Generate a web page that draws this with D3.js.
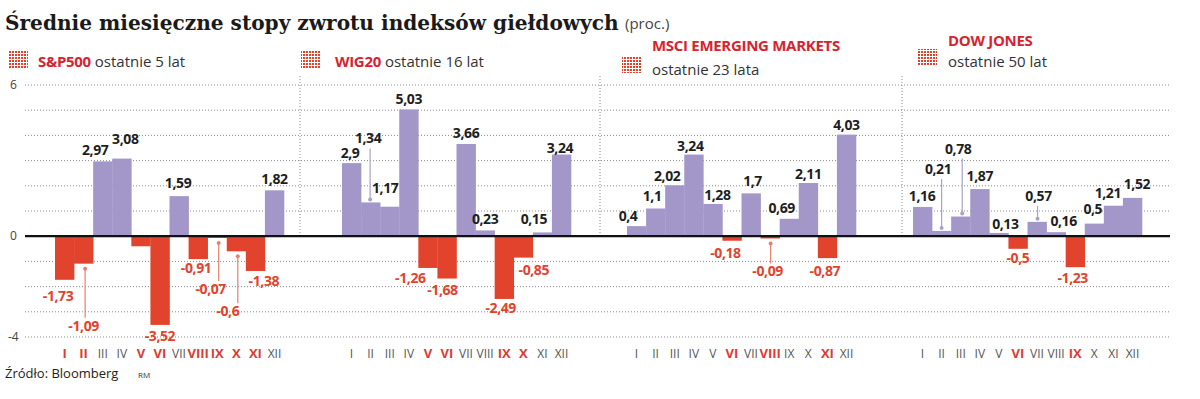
<!DOCTYPE html>
<html>
<head>
<meta charset="utf-8">
<script src="https://cdn.jsdelivr.net/npm/d3@7"></script>
<style>
  body { margin: 0; background: #fff; }
  svg { display: block; font-family: "Open Sans", sans-serif; }
</style>
</head>
<body>
<div id="chart"></div>
<script>
// data
const months = ["I", "II", "III", "IV", "V", "VI", "VII", "VIII", "IX", "X", "XI", "XII"];
const indexNames = ["S&P500", "WIG20", "MSCI EMERGING MARKETS", "DOW JONES"];
const periods = ["ostatnie 5 lat", "ostatnie 16 lat", "ostatnie 23 lata", "ostatnie 50 lat"];
const sp500 = [-1.73, -1.09, 2.97, 3.08, -0.4, -3.52, 1.59, -0.91, -0.07, -0.6, -1.38, 1.82];
const wig20 = [2.9, 1.34, 1.17, 5.03, -1.26, -1.68, 3.66, 0.23, -2.49, -0.85, 0.15, 3.24];
const msci = [0.4, 1.1, 2.02, 3.24, 1.28, -0.18, 1.7, -0.09, 0.69, 2.11, -0.87, 4.03];
const dowJones = [1.16, 0.21, 0.78, 1.87, 0.13, -0.5, 0.57, 0.16, -1.23, 0.5, 1.21, 1.52];
const hiddenLabels = [[0, 4]]; // S&P500 V has no value printed
const yTickLabels = [6, 0, -4];

const series = [sp500, wig20, msci, dowJones];

// layout
const W = 1200, H = 399;
const purple = "#a397c9", red = "#e2432d", redText = "#e2432d", legendRed = "#d8232f";
const panelLeft = [55, 342, 627, 913];
const panelWidth = 229;
const separators = [300, 600, 902];

// label nudges [dx, dy] from default spot (centre above / below the bar)
const nudge = [
  [[-6.5, 8], [0, 54], [-7.5, -2], [3.5, -11], [0, 0], [0, 3], [-1, -4], [-2, 1], [-6.5, 43], [-8.5, 52], [8.5, 2], [0, -2]],
  [[-1.5, -1], [-2.5, -55], [-4.5, -9.5], [0, -1], [-17.5, 2], [-4.5, 3], [0, -2], [0, -2], [-3.5, 1], [10.5, 4], [-8.5, -4], [-1.5, 2]],
  [[-8.5, -1], [-3.5, -3], [-7.5, 0], [-3.5, 0], [4.5, 0], [-6.5, 4.5], [1.5, -3], [-2.5, 25], [-7.5, -1.5], [0, 0], [-2.5, 5], [0, -1]],
  [[-0.5, -2], [-3.5, -53], [-2.5, -59], [0, -4], [6.5, 0], [0, 1], [1.5, -17], [7.5, -2], [-2.5, 3], [-1.5, -5.5], [-5.5, -3.5], [4.5, -4.5]]
];
// leader lines: [panel, month, dx of line from bar centre]
const leaders = [[0, 1, 1.5], [0, 8, 1.5], [0, 9, 1.5], [1, 1, -0.5], [2, 7, 0.5], [3, 1, 0], [3, 2, 1.5], [3, 6, 0.5]];

const svg = d3.select("#chart").append("svg")
  .attr("width", W)
  .attr("height", H);

const defs = svg.append("defs");
const pat = defs.append("pattern")
  .attr("id", "dots")
  .attr("width", 3).attr("height", 3)
  .attr("patternUnits", "userSpaceOnUse");
pat.append("rect").attr("width", 2).attr("height", 2).attr("fill", red);

const y = d3.scaleLinear().domain([-4, 6]).range([337, 85]);

// grid
svg.append("g")
  .selectAll("line")
  .data(d3.range(-4, 7).filter(d => d !== 0))
  .join("line")
  .attr("x1", 25).attr("x2", 1170)
  .attr("y1", d => y(d)).attr("y2", d => y(d))
  .attr("stroke", "#8a8a8a")
  .attr("stroke-width", 1)
  .attr("stroke-dasharray", "1,2");

svg.append("g")
  .selectAll("line")
  .data(separators)
  .join("line")
  .attr("x1", d => d).attr("x2", d => d)
  .attr("y1", 76).attr("y2", y(0))
  .attr("stroke", "#8a8a8a")
  .attr("stroke-dasharray", "1,2");

svg.append("g")
  .selectAll("text")
  .data(yTickLabels)
  .join("text")
  .attr("x", d => d < 0 ? 8 : 10)
  .attr("y", d => y(d) + 4)
  .attr("font-size", 12)
  .attr("fill", "#444")
  .text(d => d);

// title
const title = svg.append("text")
  .attr("x", 5).attr("y", 30)
  .attr("font-family", "DejaVu Serif, serif")
  .attr("font-weight", "bold")
  .attr("font-size", 21)
  .attr("fill", "#1a1a1a")
  .text("Średnie miesięczne stopy zwrotu indeksów giełdowych");
const tw = title.node().getComputedTextLength();
title.attr("font-size", 21 * 614 / tw);
svg.append("text")
  .attr("x", 625).attr("y", 29)
  .attr("font-size", 15)
  .attr("fill", "#444")
  .text("(proc.)");

// legends
const legendPos = [
  { icon: [8, 51], name: [38, 67], period: null },
  { icon: [301, 51], name: [335, 67], period: null },
  { icon: [622, 56], name: [652, 51], period: [652, 75] },
  { icon: [917, 49], name: [948, 46], period: [948, 67] }
];
legendPos.forEach((p, i) => {
  svg.append("rect")
    .attr("x", p.icon[0]).attr("y", p.icon[1])
    .attr("width", 20).attr("height", 17)
    .attr("fill", "url(#dots)");
  const t = svg.append("text")
    .attr("x", p.name[0]).attr("y", p.name[1])
    .attr("font-size", 15);
  t.append("tspan")
    .attr("font-weight", "bold")
    .attr("fill", legendRed)
    .attr("letter-spacing", -0.3)
    .text(indexNames[i]);
  if (p.period) {
    svg.append("text")
      .attr("x", p.period[0]).attr("y", p.period[1])
      .attr("font-size", 15)
      .attr("fill", "#333")
      .text(periods[i]);
  } else {
    t.append("tspan").attr("fill", "#333").text(" " + periods[i]);
  }
});

// panels
const fmt = v => String(v).replace(".", ",");

series.forEach((vals, pi) => {
  const x = d3.scaleBand()
    .domain(months)
    .range([panelLeft[pi], panelLeft[pi] + panelWidth])
    .paddingInner(0);
  const data = vals.map((v, i) => ({ m: months[i], v, i }));
  const g = svg.append("g");

  g.selectAll("rect")
    .data(data)
    .join("rect")
    .attr("x", d => x(d.m))
    .attr("width", x.bandwidth() + 0.3)
    .attr("y", d => y(Math.max(0, d.v)))
    .attr("height", d => Math.abs(y(d.v) - y(0)))
    .attr("fill", d => d.v < 0 ? red : purple);

  // month labels
  g.selectAll("text.m")
    .data(data)
    .join("text")
    .attr("class", "m")
    .attr("x", d => x(d.m) + x.bandwidth() / 2)
    .attr("y", 358)
    .attr("text-anchor", "middle")
    .attr("font-size", d => d.v < 0 ? 13 : 12)
    .attr("font-weight", d => d.v < 0 ? "bold" : "normal")
    .attr("fill", d => d.v < 0 ? "#dc3b35" : "#555")
    .text(d => d.m);

  const shown = data.filter(d => !hiddenLabels.some(h => h[0] === pi && h[1] === d.i));
  const lx = d => x(d.m) + x.bandwidth() / 2 + nudge[pi][d.i][0];
  const ly = d => (d.v < 0 ? y(d.v) + 13 : y(d.v) - 4) + nudge[pi][d.i][1];

  // leader lines
  leaders.filter(l => l[0] === pi).forEach(l => {
    const d = data[l[1]];
    const cx = x(d.m) + x.bandwidth() / 2 + l[2];
    const col = d.v < 0 ? "#e8806e" : "#a9a2c8";
    let y1, y2;
    if (d.v < 0) { y1 = y(d.v) + 5; y2 = ly(d) - 13; }
    else { y1 = y(d.v) - 3; y2 = ly(d) + 5; }
    g.append("line")
      .attr("x1", cx).attr("x2", cx)
      .attr("y1", y1).attr("y2", y2)
      .attr("stroke", col).attr("stroke-width", 1.2);
    g.append("circle")
      .attr("cx", cx).attr("cy", y1).attr("r", 2)
      .attr("fill", col);
  });

  g.selectAll("text.v")
    .data(shown)
    .join("text")
    .attr("class", "v")
    .attr("x", lx)
    .attr("y", ly)
    .attr("text-anchor", "middle")
    .attr("font-size", 14)
    .attr("font-weight", "bold")
    .attr("letter-spacing", -0.4)
    .attr("fill", d => d.v < 0 ? redText : "#1e1e1e")
    .text(d => fmt(d.v));
});

// zero line
svg.append("line")
  .attr("x1", 25).attr("x2", 1170)
  .attr("y1", y(0)).attr("y2", y(0))
  .attr("stroke", "#111")
  .attr("stroke-width", 2.2);

// source
svg.append("text")
  .attr("x", 5).attr("y", 378)
  .attr("font-size", 13)
  .attr("fill", "#222")
  .text("Źródło: Bloomberg");
svg.append("text")
  .attr("x", 138).attr("y", 378)
  .attr("font-size", 8)
  .attr("fill", "#333")
  .text("RM");
</script>
</body>
</html>
